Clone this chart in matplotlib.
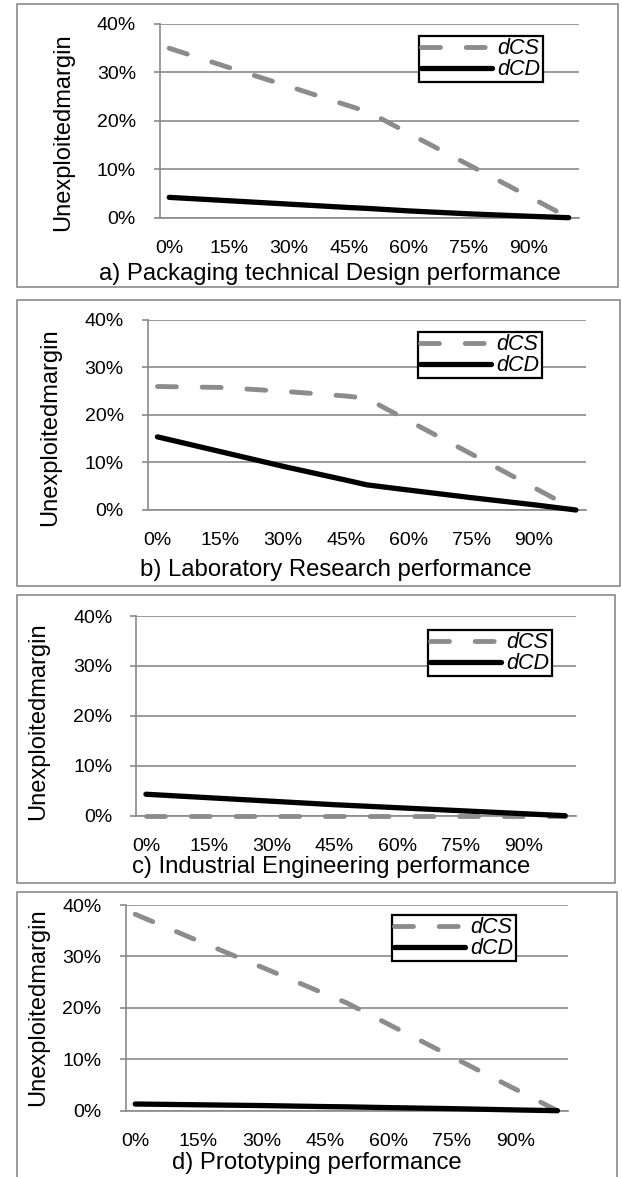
import matplotlib
matplotlib.use('Agg')
import matplotlib.pyplot as plt
from matplotlib.patches import Rectangle

plt.rcParams['font.family'] = ['Liberation Sans', 'DejaVu Sans']

perf = [0, 15, 30, 45, 50, 60, 75, 90, 100]

# unexploited margin (%) per panel
dcs_a = [35.0, 31.0, 27.1, 23.1, 21.8, 17.4, 10.9, 4.4, 0.0]
dcd_a = [4.2, 3.5, 2.8, 2.1, 1.9, 1.4, 0.8, 0.3, 0.0]
dcs_b = [26.0, 25.8, 25.0, 24.0, 23.5, 18.8, 11.8, 4.7, 0.0]
dcd_b = [15.4, 12.3, 9.2, 6.3, 5.3, 4.2, 2.6, 1.1, 0.0]
dcs_c = [0, 0, 0, 0, 0, 0, 0, 0, 0]
dcd_c = [4.3, 3.6, 2.9, 2.2, 2.0, 1.6, 1.0, 0.4, 0.0]
dcs_d = [38.2, 33.0, 27.9, 22.7, 21.0, 16.8, 10.5, 4.2, 0.0]
dcd_d = [1.3, 1.15, 1.0, 0.8, 0.75, 0.6, 0.4, 0.15, 0.0]

titles = ['a) Packaging technical Design performance',
          'b) Laboratory Research performance',
          'c) Industrial Engineering performance',
          'd) Prototyping performance']
xticks = [0, 15, 30, 45, 60, 75, 90]
yticks = [0, 10, 20, 30, 40]
ylabel = 'Unexploitedmargin'

W, H = 622, 1177
GRID = '#8a8a8a'
DASH = '#8c8c8c'

fig = plt.figure(figsize=(W / 100, H / 100), dpi=100)

def px_box(l, t, r, b):
  return [l / W, 1 - b / H, (r - l) / W, (b - t) / H]

# layout in pixels: axes box, panel frame, title centre, ylabel centre, legend top-left
panels = [
  dict(ax=(160, 24, 578.7, 217.7), frame=(16.7, 4, 617.7, 287), title=(330, 274), ylab=(63, 132), leg=(419, 36)),
  dict(ax=(147.8, 320, 586.4, 510), frame=(16.7, 300, 620, 586), title=(336, 570), ylab=(50, 427), leg=(418, 332)),
  dict(ax=(136.3, 616, 575.7, 815.7), frame=(16.7, 595, 615, 882.7), title=(331, 867), ylab=(38, 721), leg=(428, 630)),
  dict(ax=(125.5, 905, 568, 1110.7), frame=(16.7, 892, 617, 1185), title=(317, 1163), ylab=(38, 1007), leg=(392, 915)),
]
series = [(dcs_a, dcd_a), (dcs_b, dcd_b), (dcs_c, dcd_c), (dcs_d, dcd_d)]

for p, (dcs, dcd), title in zip(panels, series, titles):
  l, t, r, b = p['frame']
  fig.add_artist(Rectangle((l / W, 1 - b / H), (r - l) / W, (b - t) / H,
                           transform=fig.transFigure, fill=False, ec=GRID, lw=1.2))

  ax = fig.add_axes(px_box(*p['ax']))
  ax.plot(perf, dcs, color=DASH, lw=3.5, dashes=(3.9, 5.3), dash_capstyle='round',
          label='dCS', clip_on=False, zorder=3)
  ax.plot(perf, dcd, color='black', lw=3.8, solid_capstyle='round',
          label='dCD', clip_on=False, zorder=4)

  ax.set_xlim(-2.3, 102.5)
  ax.set_ylim(0, 40)
  ax.set_xticks(xticks)
  ax.set_xticklabels(['%d%%' % v for v in xticks])
  ax.set_yticks(yticks)
  ax.set_yticklabels(['%d%%' % v for v in yticks])
  ax.tick_params(axis='x', length=0, pad=16, labelsize=14)
  ax.tick_params(axis='y', length=4.3, width=1.2, color=GRID, pad=13, labelsize=14)
  ax.yaxis.grid(True, color=GRID, lw=1.2)
  ax.set_axisbelow(True)
  for s in ['top', 'right']:
    ax.spines[s].set_visible(False)
  for s in ['left', 'bottom']:
    ax.spines[s].set_color(GRID)
    ax.spines[s].set_linewidth(1.2)

  leg = ax.legend(loc='upper left', bbox_to_anchor=(p['leg'][0] / W, 1 - p['leg'][1] / H),
                  bbox_transform=fig.transFigure, prop={'style': 'italic', 'size': 15.5},
                  handlelength=3.3, handletextpad=0.25, borderpad=0.1, labelspacing=0.0,
                  borderaxespad=0, fancybox=False, framealpha=1, edgecolor='black')
  leg.get_frame().set_linewidth(1.6)

  fig.text(p['title'][0] / W, 1 - p['title'][1] / H, title, ha='center', va='center', fontsize=17.2)
  fig.text(p['ylab'][0] / W, 1 - p['ylab'][1] / H, ylabel, ha='center', va='center',
           rotation=90, fontsize=17)

fig.savefig('out.png', dpi=100)
